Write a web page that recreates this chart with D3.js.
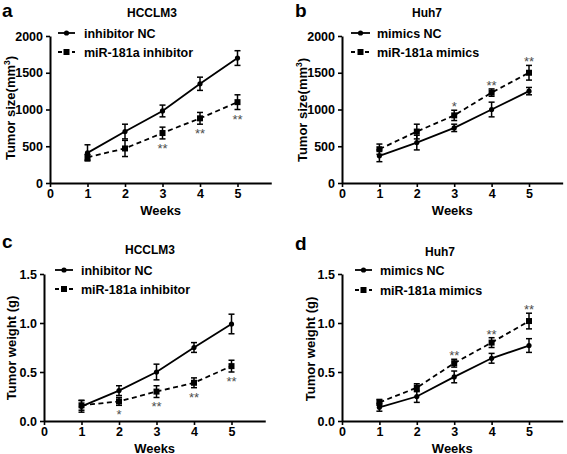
<!DOCTYPE html>
<html><head><meta charset="utf-8">
<script src="https://cdn.jsdelivr.net/npm/d3@7"></script>
<style>
body{margin:0;background:#fff;}
svg{display:block;font-family:"Liberation Sans",Arial,sans-serif;font-weight:bold;}
</style></head>
<body><svg id="c" width="567" height="454"></svg>
<script>
const weeks = [1,2,3,4,5];
const xTicks = [0,1,2,3,4,5];

// a: HCCLM3 tumor size
const aNC = [410,700,980,1350,1700];
const aNCerr = [110,100,80,90,100];
const aTr = [350,470,680,880,1100];
const aTrErr = [40,110,80,80,100];
const aStars = ["","","**","**","**"];

// b: Huh7 tumor size
const bNC = [370,550,750,1000,1250];
const bNCerr = [80,100,50,100,50];
const bTr = [460,700,920,1230,1500];
const bTrErr = [70,100,70,50,100];
const bStars = ["","","*","**","**"];

// c: HCCLM3 tumor weight
const cNC = [0.15,0.31,0.50,0.75,0.99];
const cNCerr = [0.06,0.05,0.08,0.05,0.10];
const cTr = [0.16,0.20,0.30,0.39,0.56];
const cTrErr = [0.05,0.04,0.06,0.05,0.06];
const cStars = ["","*","**","**","**"];

// d: Huh7 tumor weight
const dNC = [0.14,0.25,0.45,0.64,0.77];
const dNCerr = [0.04,0.06,0.06,0.05,0.07];
const dTr = [0.19,0.34,0.59,0.80,1.02];
const dTrErr = [0.03,0.04,0.04,0.05,0.08];
const dStars = ["","","**","**","**"];

const sizeTicks = [0,500,1000,1500,2000];
const weightTicks = [0,0.5,1.0,1.5];

const svg = d3.select("#c");

function panel(o){
  const g = svg.append("g");
  const x = d3.scaleLinear().domain([0,5.9]).range([o.x0, o.x0 + 5.9*o.unit]);
  const y = d3.scaleLinear().domain([0,o.ymax]).range([o.yb, o.yt]);

  const xa = g.append("g").attr("transform",`translate(0,${o.yb})`)
    .call(d3.axisBottom(x).tickValues(xTicks).tickSize(4).tickPadding(2).tickFormat(d3.format("d")).tickSizeOuter(0));
  const ya = g.append("g").attr("transform",`translate(${o.x0},0)`)
    .call(d3.axisLeft(y).tickValues(o.yTicks).tickSize(4).tickPadding(3).tickFormat(o.fmt).tickSizeOuter(0));
  [xa,ya].forEach(a=>{
    a.select(".domain").attr("stroke","#000").attr("stroke-width",2);
    a.selectAll(".tick line").attr("stroke","#000").attr("stroke-width",1.6);
    a.selectAll(".tick text").attr("fill","#000").style("font-size","12.5px").style("font-weight","bold").style("font-family","Liberation Sans, Arial, sans-serif");
  });

  const line = d3.line().x((d,i)=>x(weeks[i])).y(d=>y(d));
  function series(vals, errs, dashed, marker){
    g.append("path").datum(vals).attr("d",line).attr("fill","none")
      .attr("stroke","#000").attr("stroke-width",1.8)
      .attr("stroke-dasharray", dashed ? "5,3.5" : null);
    vals.forEach((v,i)=>{
      const cx = x(weeks[i]);
      const y1 = y(v+errs[i]), y2 = y(v-errs[i]);
      g.append("line").attr("x1",cx).attr("x2",cx).attr("y1",y1).attr("y2",y2).attr("stroke","#000").attr("stroke-width",1.5);
      [y1,y2].forEach(yy=>g.append("line").attr("x1",cx-3).attr("x2",cx+3).attr("y1",yy).attr("y2",yy).attr("stroke","#000").attr("stroke-width",1.5));
      if(marker==="circle") g.append("circle").attr("cx",cx).attr("cy",y(v)).attr("r",2.6).attr("fill","#000");
      else g.append("rect").attr("x",cx-3).attr("y",y(v)-3).attr("width",6).attr("height",6).attr("fill","#000");
    });
  }
  series(o.nc,o.ncErr,false,"circle");
  series(o.tr,o.trErr,true,"square");

  o.stars.forEach((s,i)=>{
    if(!s) return;
    const v = o.tr[i], e = o.trErr[i];
    const cy = o.starsBelow ? y(v-e)+7 : y(v+e)-6;
    g.append("text").attr("x",x(weeks[i])).attr("y",cy+7).attr("text-anchor","middle")
      .style("font-size","13px").style("font-weight","normal").attr("fill","#4d4d4d").text(s);
  });

  // legend
  const L = o.leg;
  [[L.y1,false,"circle",o.ncName],[L.y2,true,"square",o.trName]].forEach(([ly,dashed,m,name])=>{
    g.append("line").attr("x1",L.x1).attr("x2",L.x2).attr("y1",ly).attr("y2",ly)
      .attr("stroke","#000").attr("stroke-width",1.8).attr("stroke-dasharray",dashed?"4,3":null);
    const mx=(L.x1+L.x2)/2;
    if(m==="circle") g.append("circle").attr("cx",mx).attr("cy",ly).attr("r",2.6).attr("fill","#000");
    else g.append("rect").attr("x",mx-3).attr("y",ly-3).attr("width",6).attr("height",6).attr("fill","#000");
    g.append("text").attr("x",L.tx).attr("y",ly+4.5).style("font-size","12.5px").text(name);
  });

  g.append("text").attr("x",o.titleX).attr("y",o.titleY).attr("text-anchor","middle").style("font-size","12px").text(o.title);
  g.append("text").attr("x",o.lx).attr("y",o.ly).style("font-size","19px").text(o.letter);
  g.append("text").attr("x",(x(0)+x(5.9))/2).attr("y",o.wy).attr("text-anchor","middle").style("font-size","13px").text("Weeks");
  const yt = g.append("text").attr("transform",`translate(${o.ytx},${o.yty}) rotate(-90)`).attr("text-anchor","middle").style("font-size","13px");
  yt.append("tspan").text(o.ytitle[0]);
  if(o.ytitle.length>1){
    yt.append("tspan").attr("dy",-5).style("font-size","8.5px").text(o.ytitle[1]);
    yt.append("tspan").attr("dy",5).text(o.ytitle[2]);
  }
}

const sizeTitle = ["Tumor size(mm","3",")"];
const weightTitle = ["Tumor weight (g)"];

panel({x0:50,unit:37.5,yb:183,yt:36,ymax:2000,yTicks:sizeTicks,fmt:d3.format("d"),
  nc:aNC,ncErr:aNCerr,tr:aTr,trErr:aTrErr,stars:aStars,starsBelow:true,
  leg:{x1:58,x2:75,tx:84,y1:33,y2:52},ncName:"inhibitor NC",trName:"miR-181a inhibitor",
  title:"HCCLM3",titleX:152,titleY:17,letter:"a",lx:2,ly:16.5,wy:215,ytx:15,yty:108,ytitle:sizeTitle});

panel({x0:342,unit:37.4,yb:183,yt:36,ymax:2000,yTicks:sizeTicks,fmt:d3.format("d"),
  nc:bNC,ncErr:bNCerr,tr:bTr,trErr:bTrErr,stars:bStars,starsBelow:false,
  leg:{x1:351,x2:370,tx:377,y1:33,y2:52},ncName:"mimics NC",trName:"miR-181a mimics",
  title:"Huh7",titleX:427,titleY:17,letter:"b",lx:295,ly:16.5,wy:215,ytx:307,yty:110,ytitle:sizeTitle});

panel({x0:44,unit:37.5,yb:421,yt:274,ymax:1.5,yTicks:weightTicks,fmt:d3.format(".1f"),
  nc:cNC,ncErr:cNCerr,tr:cTr,trErr:cTrErr,stars:cStars,starsBelow:true,
  leg:{x1:55,x2:73,tx:81,y1:270,y2:289},ncName:"inhibitor NC",trName:"miR-181a inhibitor",
  title:"HCCLM3",titleX:150,titleY:254,letter:"c",lx:2,ly:248,wy:452.5,ytx:16,yty:348,ytitle:weightTitle});

panel({x0:342,unit:37.4,yb:421,yt:274,ymax:1.5,yTicks:weightTicks,fmt:d3.format(".1f"),
  nc:dNC,ncErr:dNCerr,tr:dTr,trErr:dTrErr,stars:dStars,starsBelow:false,
  leg:{x1:355,x2:372,tx:380,y1:270,y2:290},ncName:"mimics NC",trName:"miR-181a mimics",
  title:"Huh7",titleX:440,titleY:256,letter:"d",lx:295,ly:250,wy:452.5,ytx:315,yty:349,ytitle:weightTitle});
</script></body></html>
